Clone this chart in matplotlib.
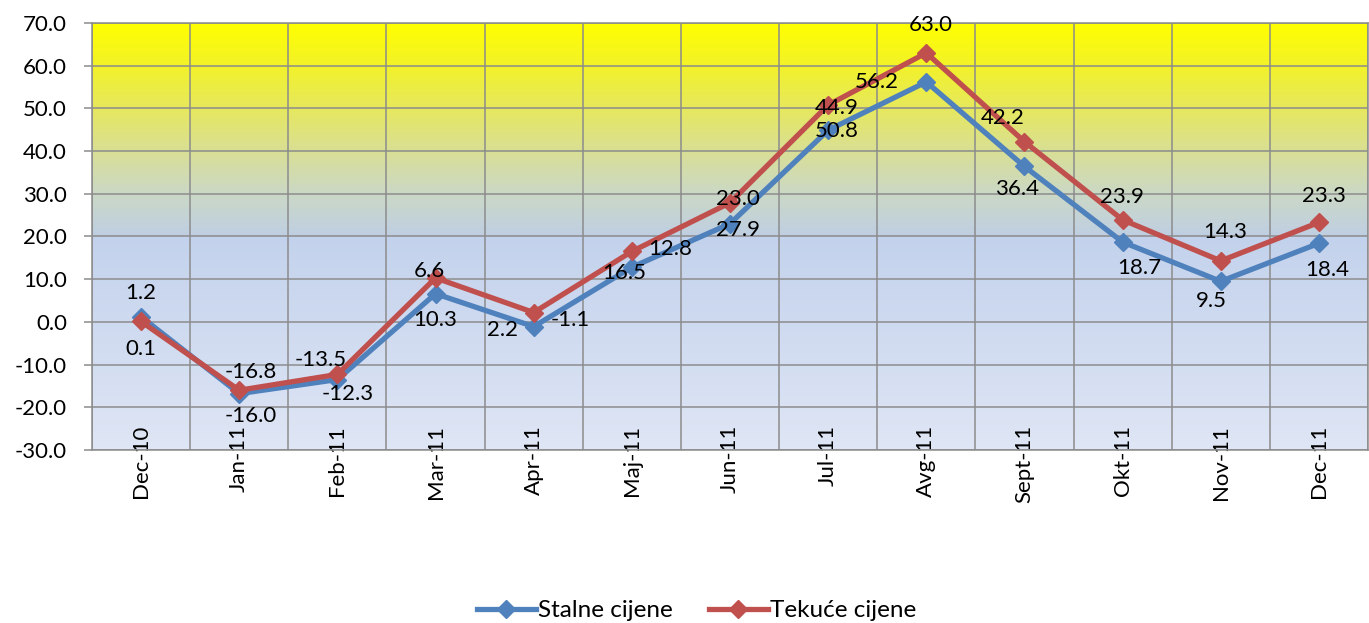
import numpy as np
import matplotlib
matplotlib.use("Agg")
import matplotlib.pyplot as plt
from matplotlib.colors import to_rgb

plt.rcParams["font.family"] = ["Lato", "DejaVu Sans"]

# ── Podaci ───────────────────────────────────────────────────────────────────
months = ["Dec-10", "Jan-11", "Feb-11", "Mar-11", "Apr-11", "Maj-11", "Jun-11",
          "Jul-11", "Avg-11", "Sept-11", "Okt-11", "Nov-11", "Dec-11"]
stalne = [1.2, -16.8, -13.5, 6.6, -1.1, 12.8, 23.0, 44.9, 56.2, 36.4, 18.7, 9.5, 18.4]
tekuce = [0.1, -16.0, -12.3, 10.3, 2.2, 16.5, 27.9, 50.8, 63.0, 42.2, 23.9, 14.3, 23.3]

# pomaci natpisa (pikseli, x desno / y gore) kao na originalu
off_stalne = [(0, 24), (12, 22), (-17, 20), (-6, 23), (37, 7), (38, 18), (8, 25),
              (9, 22), (-50, 0), (-7, -23), (17, -26), (-9, -20), (8, -27)]
off_tekuce = [(0, -28), (12, -26), (10, -20), (0, -42), (-31, -17), (-8, -22), (8, -27),
              (9, -26), (4, 28), (-22, 24), (-1, 23), (4, 29), (5, 26)]

BLUE = "#4F81BD"
RED  = "#C0504D"
GRID = "#8C8C8C"
FS   = 16

fig = plt.figure(figsize=(13.69, 6.23), dpi=100)
ax = fig.add_axes([92 / 1369, 173 / 623, 1276 / 1369, 427 / 623])

# ── Pozadina (gradijent) ─────────────────────────────────────────────────────
yv = np.linspace(70, -30, 600)
top_stops = [(20.0, "#BFCFE3"), (30, "#CBD8C6"), (40, "#D9DF95"),
             (50, "#E6E85E"), (60, "#F2F22A"), (70, "#FFFF00")]
bot_stops = [(-30, "#DFE6F5"), (20.0, "#C3D2EC")]

def grad(vals, stops):
    xs = [s[0] for s in stops]
    cs = np.array([to_rgb(s[1]) for s in stops])
    return np.stack([np.interp(vals, xs, cs[:, k]) for k in range(3)], axis=-1)

img = np.where((yv > 20)[:, None], grad(yv, top_stops), grad(yv, bot_stops))
ax.imshow(img[:, None, :], extent=(-0.5, 12.5, -30, 70), aspect="auto", zorder=0)

x = np.arange(len(months))
ax.plot(x, stalne, color=BLUE, lw=3.8, marker="D", ms=9, zorder=3, label="Stalne cijene")
ax.plot(x, tekuce, color=RED, lw=3.8, marker="D", ms=9, zorder=4, label="Tekuće cijene")

for xi, v, (dx, dy) in zip(x, stalne, off_stalne):
    ax.annotate(f"{v:.1f}", (xi, v), xytext=(dx, dy), textcoords="offset pixels",
                ha="center", va="center", fontsize=FS, zorder=5)
for xi, v, (dx, dy) in zip(x, tekuce, off_tekuce):
    ax.annotate(f"{v:.1f}", (xi, v), xytext=(dx, dy), textcoords="offset pixels",
                ha="center", va="center", fontsize=FS, zorder=5)

# ── Osi ──────────────────────────────────────────────────────────────────────
ax.set_xlim(-0.5, 12.5)
ax.set_ylim(-30, 70)
ax.set_yticks(np.arange(-30, 71, 10))
ax.set_yticklabels([f"{t:.1f}" for t in np.arange(-30, 71, 10)], fontsize=FS)
ax.set_xticks(x)
ax.set_xticklabels(months, rotation=90, fontsize=FS)
ax.set_xticks(np.arange(-0.5, 13, 1), minor=True)
ax.tick_params(axis="x", which="major", length=0, pad=-18)
ax.tick_params(axis="x", which="minor", length=0)
ax.tick_params(axis="y", length=6, width=1.1, color=GRID, pad=12)
ax.grid(True, axis="y", color=GRID, lw=1.1, zorder=1)
ax.grid(True, axis="x", which="minor", color=GRID, lw=1.1, zorder=1)
ax.set_axisbelow(True)
for s in ax.spines.values():
    s.set_color(GRID)
    s.set_linewidth(1.1)

fig.legend(loc="center", bbox_to_anchor=(0.509, 0.02), ncol=2, frameon=False,
           fontsize=17.5, handlelength=2.4, handletextpad=0.1, columnspacing=1.5)

plt.savefig("out.png", dpi=100)
